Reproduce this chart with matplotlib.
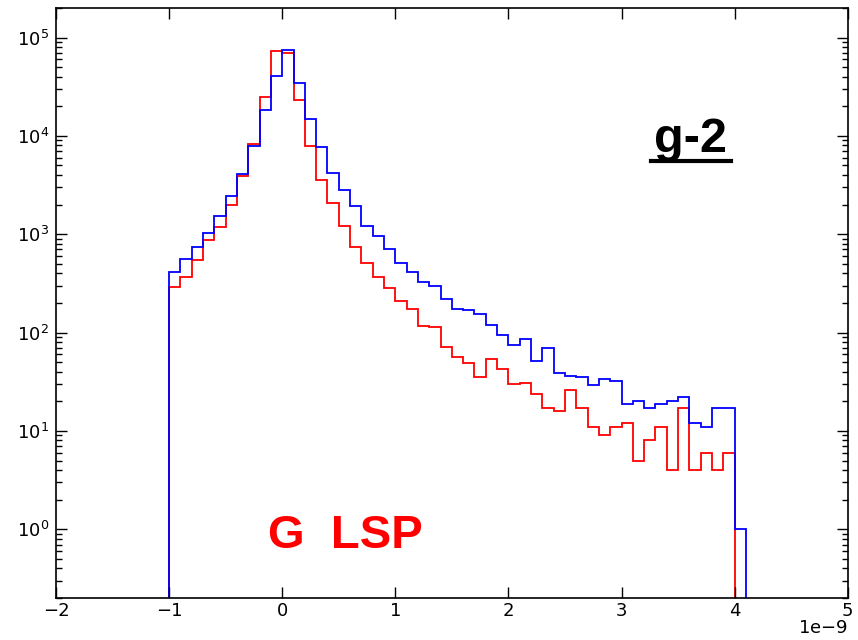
import numpy as np
import matplotlib
matplotlib.use("Agg")
import matplotlib.pyplot as plt
from matplotlib.lines import Line2D

# bin edges (in units of 1e-9)
blue_edges = np.round(np.arange(-1.0, 4.1001, 0.1), 2)
red_edges = np.round(np.arange(-1.0, 4.0001, 0.1), 2)

blue_counts = [411, 560, 746, 1035, 1530, 2440, 4080, 7850, 18500, 40200,
               75000, 34400, 14900, 7710, 4200, 2800, 1930, 1211, 966, 713,
               514, 417, 325, 300, 219, 173, 168, 155, 120, 95,
               75, 86, 51, 69, 39, 36, 35, 29, 34, 32,
               19, 20, 17, 19, 20, 22, 12, 11, 17, 17,
               1]
red_counts = [294, 366, 548, 873, 1190, 1980, 3890, 8220, 24800, 73800,
              70000, 23200, 7850, 3550, 2060, 1220, 746, 514, 371, 283,
              210, 173, 118, 115, 72, 56, 49, 35, 54, 43,
              30, 31, 24, 17, 16, 26, 17, 11, 9, 11,
              12, 5, 8, 11, 4, 17, 4, 6, 4, 6]

x_scale = 1e-9
x_ticks = [-2, -1, 0, 1, 2, 3, 4, 5]
y_ticks = [1e0, 1e1, 1e2, 1e3, 1e4, 1e5]

fig = plt.figure(figsize=(8.58, 6.4), dpi=100)
ax = fig.add_axes([0.0653, 0.0656, 0.9227, 0.922])

ax.stairs(red_counts, red_edges * x_scale, baseline=1e-3, color='#ff0000', lw=1.3)
ax.stairs(blue_counts, blue_edges * x_scale, baseline=1e-3, color='#0000ff', lw=1.3)

ax.set_yscale('log')
ax.set_xlim(-2 * x_scale, 5 * x_scale)
ax.set_ylim(0.2, 2e5)
ax.set_xticks(np.array(x_ticks) * x_scale)
ax.set_yticks(y_ticks)
ax.tick_params(which='both', direction='in', top=True, right=True, labelsize=13)
ax.tick_params(which='major', length=8, width=1)
ax.tick_params(which='minor', length=4, width=1)
ax.tick_params(axis='x', pad=3)
ax.tick_params(axis='y', pad=5)
ax.xaxis.get_offset_text().set_visible(False)
fig.text(848 / 858, 1 - 628 / 640, r'1e$-$9', ha='right', va='center', fontsize=13)
for s in ax.spines.values():
    s.set_linewidth(1.2)

ax.text(691 / 858, 1 - 152 / 640, 'g-2', transform=fig.transFigure,
        fontsize=35, family='Liberation Sans', fontweight='bold',
        ha='center', va='baseline', color='black')
fig.add_artist(Line2D([651 / 858, 731 / 858], [1 - 160.5 / 640, 1 - 160.5 / 640],
                      transform=fig.transFigure, color='black', lw=3))

ax.text(268 / 858, 1 - 548 / 640, 'G  LSP', transform=fig.transFigure,
        fontsize=34, family='Liberation Sans', fontweight='bold',
        ha='left', va='baseline', color='#ff0000')

fig.savefig('out.png', dpi=100)
